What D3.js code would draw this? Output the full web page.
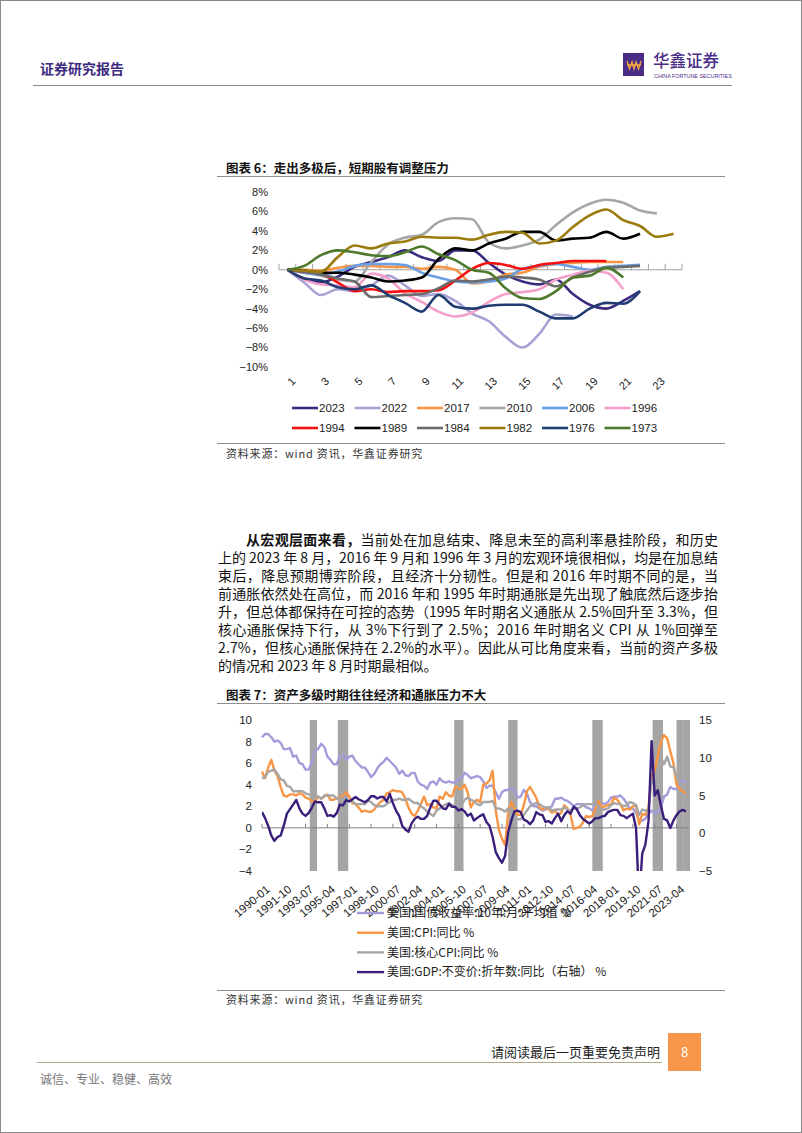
<!DOCTYPE html>
<html>
<head>
<meta charset="utf-8">
<script src="https://cdn.jsdelivr.net/npm/d3@7"></script>
<style>
  body { margin: 0; background: #fff; }
  svg { display: block; }
  text { font-family: "Noto Sans CJK SC", "Noto Sans", sans-serif; }
  .num { font-family: "Liberation Sans", Arial, sans-serif; }
</style>
</head>
<body>
<div id="page"></div>
<script>
// ---------- chart 6 data: cumulative return after multi-peak, by period ----------
const periods = d3.range(1, 25);
const periodLabels = [1, 3, 5, 7, 9, 11, 13, 15, 17, 19, 21, 23];
const pctTicks = [8, 6, 4, 2, 0, -2, -4, -6, -8, -10];

const years = ["2023", "2022", "2017", "2010", "2006", "1996", "1994", "1989", "1984", "1982", "1976", "1973"];
const yearColors = ["#3b2a7e", "#a8a2d4", "#f79646", "#a6a6a6", "#6a9fe6", "#f59fcb",
                    "#f50f0f", "#000000", "#6b6b6b", "#9c7b0d", "#203d72", "#4e7a2c"];

const s2023 = [0, -0.9, -1.3, -0.7, 0.3, 0.8, 1.3, 2.0, 1.3, 0.9, 2.0, 2.0, 0.7, -0.5, -1.2, -1.5, -1.0, -2.5, -3.6, -4.0, -3.2, -2.2];
const s2022 = [0, -1.3, -2.6, -2.0, -2.2, -1.6, -0.6, -1.6, -2.7, -2.5, -3.2, -4.5, -5.3, -6.9, -8.0, -6.6, -4.6, -4.8];
const s2017 = [0, 0.0, -0.1, 0.2, 0.4, 0.4, 0.3, 0.3, 0.1, 0.3, 0.0, -1.4, -1.2, -0.5, -0.3, 0.3, 0.6, 0.7, 0.8, 0.8, 0.8];
const s2010 = [0, -0.3, -0.6, -1.0, -1.2, 0.8, 2.6, 3.3, 3.6, 4.9, 5.3, 5.2, 2.8, 2.2, 2.5, 3.1, 4.6, 5.9, 6.8, 7.2, 6.9, 6.1, 5.8];
const s2006 = [0, -0.3, -0.5, -0.2, 0.4, 0.6, 0.6, 0.5, -0.3, -0.8, -1.2, -1.3, -1.2, -0.9, 0.1, 0.4, 0.6, 0.3, 0.0, 0.3, 0.4, 0.5];
const s1996 = [0, -1.0, -1.5, -1.6, -1.8, -0.4, -0.9, -2.4, -3.3, -4.3, -4.8, -4.4, -3.3, -2.5, -2.3, -2.0, -1.0, -0.5, -0.1, -0.3, -2.0];
const s1994 = [0, -0.2, -0.4, -1.3, -2.2, -2.0, -2.3, -2.2, -2.2, -2.1, -1.1, 0.1, 0.7, 0.5, 0.1, 0.5, 0.7, 0.9, 0.9, 0.9];
const s1989 = [0, -0.1, -0.3, -0.3, -0.5, -0.8, -1.2, -1.1, -0.8, 1.1, 2.2, 2.0, 2.7, 3.2, 3.9, 3.9, 3.0, 3.2, 3.3, 3.9, 3.2, 3.7];
const s1984 = [0, -0.2, -0.5, -0.9, -1.2, -2.8, -2.7, -2.6, -2.5, -1.9, -1.1, -1.2, -1.0, -0.7, -0.8, -1.0, -1.7, -0.8, -0.2, 0.2, 0.3, 0.4];
const s1982 = [0, -0.1, -0.2, 1.3, 2.5, 2.2, 2.7, 2.9, 3.4, 3.3, 3.3, 3.1, 3.6, 3.9, 3.8, 2.7, 3.0, 4.4, 5.6, 6.2, 5.1, 4.5, 3.4, 3.7];
const s1976 = [0, -0.9, -1.1, -1.8, -2.0, -1.6, -2.6, -3.4, -4.3, -2.6, -3.8, -4.0, -3.7, -3.6, -3.6, -4.3, -5.0, -5.0, -4.0, -3.4, -3.5, -2.2];
const s1973 = [0, 0.4, 1.5, 2.0, 1.8, 1.5, 1.4, 1.8, 2.4, 1.6, 1.0, 0.0, -0.3, -1.9, -2.9, -3.0, -2.2, -0.8, -0.6, 0.2, -0.8];
const yearSeries = [s2023, s2022, s2017, s2010, s2006, s1996, s1994, s1989, s1984, s1982, s1976, s1973];

// ---------- chart 7 data: quarterly, 1990Q1 .. 2024Q1 ----------
const yield10 = [
  8.4, 8.7, 8.7, 8.4,  8.0, 8.1, 7.9, 7.3,  7.3, 7.4, 6.6, 6.7,  6.0, 5.9, 5.4, 5.4,
  6.1, 7.1, 7.3, 7.8,  7.5, 6.6, 6.3, 5.9,  5.9, 6.7, 6.8, 6.3,  6.6, 6.7, 6.2, 5.9,
  5.6, 5.6, 5.2, 4.7,  5.0, 5.5, 5.9, 6.1,  6.5, 6.2, 5.9, 5.6,  5.0, 5.3, 4.9, 4.8,
  5.1, 5.1, 4.3, 4.0,  3.9, 3.6, 4.2, 4.3,  4.0, 4.6, 4.3, 4.2,  4.3, 4.2, 4.2, 4.5,
  4.6, 5.1, 4.9, 4.6,  4.7, 4.8, 4.7, 4.3,  3.7, 3.9, 3.9, 3.3,  2.7, 3.3, 3.5, 3.5,
  3.7, 3.5, 2.8, 2.9,  3.5, 3.2, 2.4, 2.0,  2.0, 1.8, 1.6, 1.7,  1.9, 2.0, 2.7, 2.7,
  2.8, 2.6, 2.5, 2.3,  2.0, 2.2, 2.2, 2.2,  1.9, 1.8, 1.6, 2.1,  2.4, 2.3, 2.2, 2.4,
  2.8, 2.9, 2.9, 3.0,  2.7, 2.3, 1.8, 1.8,  1.4, 0.7, 0.65, 0.85, 1.3, 1.6, 1.3, 1.5,
  1.9, 2.9, 3.1, 3.8,  3.6, 3.6, 4.2, 4.4,  4.2];
const cpi = [
  5.2, 4.6, 5.6, 6.3,  5.3, 4.8, 3.8, 3.0,  2.9, 3.1, 3.1, 3.0,  3.2, 3.1, 2.8, 2.7,
  2.5, 2.4, 2.9, 2.7,  2.9, 3.1, 2.6, 2.6,  2.8, 2.8, 3.0, 3.3,  2.9, 2.3, 2.2, 1.9,
  1.5, 1.6, 1.5, 1.5,  1.7, 2.1, 2.4, 2.6,  3.2, 3.3, 3.5, 3.4,  3.4, 3.3, 2.7, 1.9,
  1.3, 1.1, 1.6, 2.2,  2.9, 2.1, 2.2, 1.9,  1.8, 2.9, 2.7, 3.3,  3.0, 2.9, 3.8, 3.7,
  3.6, 4.0, 3.3, 1.9,  2.4, 2.6, 2.4, 4.0,  4.1, 4.4, 5.3, 1.6,  -0.2, -1.0, -1.6, 1.5,
  2.4, 1.8, 1.2, 1.2,  2.1, 3.4, 3.8, 3.3,  2.8, 1.9, 1.7, 1.9,  1.7, 1.4, 1.6, 1.2,
  1.4, 2.1, 1.8, 1.2,  -0.1, 0.0, 0.1, 0.5,  1.1, 1.0, 1.1, 1.8,  2.5, 1.9, 2.0, 2.1,
  2.2, 2.8, 2.6, 2.2,  1.6, 1.8, 1.7, 2.0,  2.1, 0.3, 1.3, 1.2,  1.9, 4.8, 5.3, 6.7,
  8.0, 8.6, 8.3, 7.1,  6.0, 4.0, 3.6, 3.4,  3.2];
const coreCpi = [
  4.6, 4.7, 5.2, 5.3,  5.4, 5.0, 4.5, 4.4,  3.9, 3.8, 3.4, 3.4,  3.4, 3.4, 3.2, 3.1,
  2.9, 2.8, 2.9, 2.7,  3.0, 3.0, 3.0, 3.0,  2.7, 2.7, 2.7, 2.6,  2.5, 2.5, 2.2, 2.2,
  2.2, 2.2, 2.5, 2.4,  2.1, 2.0, 2.0, 2.0,  2.2, 2.4, 2.6, 2.6,  2.7, 2.6, 2.6, 2.7,
  2.5, 2.3, 2.3, 2.0,  1.8, 1.5, 1.3, 1.1,  1.6, 1.8, 2.0, 2.2,  2.3, 2.1, 2.0, 2.1,
  2.1, 2.6, 2.8, 2.6,  2.5, 2.2, 2.1, 2.4,  2.4, 2.4, 2.5, 1.8,  1.8, 1.7, 1.5, 1.8,
  1.1, 0.9, 0.8, 0.8,  1.2, 1.6, 2.0, 2.2,  2.3, 2.2, 2.0, 1.9,  1.9, 1.6, 1.7, 1.7,
  1.7, 1.9, 1.7, 1.6,  1.8, 1.8, 1.9, 2.1,  2.2, 2.2, 2.2, 2.2,  2.0, 1.7, 1.7, 1.8,
  2.1, 2.3, 2.2, 2.2,  2.0, 2.1, 2.4, 2.3,  2.1, 1.2, 1.7, 1.6,  1.6, 4.5, 4.0, 5.5,
  6.5, 5.9, 6.6, 5.7,  5.6, 4.8, 4.1, 3.9,  3.8];
const gdp = [
  2.8, 2.0, 1.0, -0.3,  -1.0, -0.5, -0.3, 1.0,  2.6, 3.2, 3.8, 4.4,  3.3, 2.6, 2.3, 2.7,
  3.4, 4.2, 4.1, 4.1,  3.3, 2.3, 2.4, 2.2,  2.7, 3.8, 3.7, 4.4,  4.2, 4.5, 4.8, 4.5,
  4.3, 4.1, 4.4, 4.9,  4.9, 4.6, 4.8, 4.8,  4.2, 5.2, 4.0, 3.0,  2.3, 1.0, 0.5, 0.2,
  1.3, 1.9, 2.2, 1.9,  1.9, 2.3, 3.4, 4.3,  4.3, 3.8, 3.3, 3.2,  3.9, 3.5, 3.5, 3.0,
  3.2, 2.9, 2.3, 2.6,  1.7, 2.0, 2.3, 2.5,  1.5, 1.0, -0.5, -2.5,  -3.3, -3.9, -3.0, 0.2,
  1.7, 2.9, 3.0, 2.8,  1.8, 1.6, 1.2, 1.7,  2.8, 2.5, 2.4, 1.5,  1.6, 1.3, 2.0, 2.6,
  1.6, 2.4, 2.9, 2.6,  3.5, 3.2, 2.4, 1.9,  1.6, 1.3, 1.6, 2.0,  2.0, 2.2, 2.3, 2.8,
  3.0, 3.1, 3.1, 2.4,  2.3, 2.0, 2.3, 2.6,  0.7, -9.0, -2.7, -1.5,  1.6, 12.2, 5.0, 5.7,
  3.6, 1.9, 1.7, 0.7,  1.7, 2.4, 2.9, 3.1,  2.9];
const macroNames = ["美国:国债收益率:10年:月:平均值 %", "美国:CPI:同比 %", "美国:核心CPI:同比 %", "美国:GDP:不变价:折年数:同比（右轴） %"];
const macroColors = ["#a39cda", "#f79646", "#a6a6a6", "#3a1e7c"];
const dateLabels = ["1990-01", "1991-10", "1993-07", "1995-04", "1997-01", "1998-10", "2000-07", "2002-04",
  "2004-01", "2005-10", "2007-07", "2009-04", "2011-01", "2012-10", "2014-07", "2016-04", "2018-01",
  "2019-10", "2021-07", "2023-04"];
const leftTicks = [10, 8, 6, 4, 2, 0, -2, -4];
const rightTicks = [15, 10, 5, 0, -5];
const peakPeriods = [["1993-11", "1994-05"], ["1996-02", "1996-11"], ["2005-06", "2006-02"], ["2009-10", "2010-06"],
  ["2016-07", "2017-04"], ["2021-05", "2022-02"], ["2023-04", "2023-10"], ["2023-11", "2024-04"]];

// ---------- page text ----------
const paraLines = [
  "上的 2023 年 8 月，2016 年 9 月和 1996 年 3 月的宏观环境很相似，均是在加息结",
  "束后，降息预期博弈阶段，且经济十分韧性。但是和 2016 年时期不同的是，当",
  "前通胀依然处在高位，而 2016 年和 1995 年时期通胀是先出现了触底然后逐步抬",
  "升，但总体都保持在可控的态势（1995 年时期名义通胀从 2.5%回升至 3.3%，但",
  "核心通胀保持下行，从 3%下行到了 2.5%；2016 年时期名义 CPI 从 1%回弹至",
  "2.7%，但核心通胀保持在 2.2%的水平）。因此从可比角度来看，当前的资产多极",
  "的情况和 2023 年 8 月时期最相似。"
];

const W = 802, H = 1133;
const svg = d3.select("#page").append("svg").attr("width", W).attr("height", H);
const minus = v => (v < 0 ? "\u2212" + Math.abs(v) : "" + v);

// page frame + header
svg.append("rect").attr("x", 0.5).attr("y", 0.5).attr("width", W - 1).attr("height", H - 1)
  .attr("fill", "none").attr("stroke", "#8a8a8a");
svg.append("text").attr("x", 40).attr("y", 74).attr("font-size", 14).attr("font-weight", 700)
  .attr("fill", "#3d2c80").text("证券研究报告");
svg.append("line").attr("x1", 33).attr("x2", 732).attr("y1", 85.5).attr("y2", 85.5).attr("stroke", "#8c8c8c");
svg.append("rect").attr("x", 623).attr("y", 53).attr("width", 21).attr("height", 23).attr("fill", "#4b2d87");
svg.append("path").attr("d", "M627,61 L629.5,69 L632,62 L634,69 L636,62 L638.5,69 L641,61 M627,65 L641,65")
  .attr("fill", "none").attr("stroke", "#f4a63c").attr("stroke-width", 1.3);
svg.append("text").attr("x", 653).attr("y", 66.5).attr("font-size", 16.5).attr("font-weight", 500)
  .attr("fill", "#4b2d87").text("华鑫证券");
svg.append("text").attr("x", 654).attr("y", 77.5).attr("font-size", 5.4).attr("class", "num")
  .attr("fill", "#4b2d87").text("CHINA FORTUNE SECURITIES");

function rule(y) {
  svg.append("line").attr("x1", 217).attr("x2", 725).attr("y1", y).attr("y2", y).attr("stroke", "#8f8f8f");
}
function source(y) {
  svg.append("text").attr("x", 226).attr("y", y).attr("font-size", 11).attr("letter-spacing", 0.8)
    .attr("fill", "#333").text("资料来源：wind 资讯，华鑫证券研究");
}

// ---------- chart 6 ----------
svg.append("text").attr("x", 226).attr("y", 173).attr("font-size", 12.5).attr("font-weight", 700)
  .attr("fill", "#111").text("图表 6：走出多极后，短期股有调整压力");
rule(176.5);

const x1 = d3.scaleBand().domain(periods).range([279, 682]);
const y1 = d3.scaleLinear().domain([-10, 8]).range([367, 192]);
const cx = p => x1(p) + x1.bandwidth() / 2;
const g1 = svg.append("g");

g1.selectAll(".yt").data(pctTicks).enter().append("text").attr("class", "num")
  .attr("x", 268).attr("y", d => y1(d)).attr("dy", "0.35em").attr("text-anchor", "end")
  .attr("font-size", 11).attr("fill", "#222").text(d => minus(d) + "%");

g1.append("line").attr("x1", 279).attr("x2", 682).attr("y1", y1(0)).attr("y2", y1(0)).attr("stroke", "#a0a0a0");
g1.selectAll(".xt").data(d3.range(0, 25)).enter().append("line")
  .attr("x1", d => 279 + d * x1.step()).attr("x2", d => 279 + d * x1.step())
  .attr("y1", y1(0)).attr("y2", y1(0) - 6).attr("stroke", "#a0a0a0");
g1.selectAll(".xl").data(periodLabels).enter().append("text").attr("class", "num")
  .attr("transform", d => `translate(${cx(d) + 3},376) rotate(-45)`).attr("dy", "0.75em")
  .attr("text-anchor", "end").attr("font-size", 11).attr("fill", "#222").text(d => d);

const line1 = d3.line().x((d, i) => cx(periods[i])).y(d => y1(d)).curve(d3.curveMonotoneX);
yearSeries.forEach((s, i) => {
  g1.append("path").attr("d", line1(s)).attr("fill", "none")
    .attr("stroke", yearColors[i]).attr("stroke-width", 2.6).attr("stroke-linejoin", "round");
});

const leg1 = svg.append("g");
years.forEach((yr, i) => {
  const lx = 292 + (i % 6) * 62.5, ly = i < 6 ? 408 : 428;
  leg1.append("line").attr("x1", lx).attr("x2", lx + 26).attr("y1", ly).attr("y2", ly)
    .attr("stroke", yearColors[i]).attr("stroke-width", 2.6);
  leg1.append("text").attr("class", "num").attr("x", lx + 27).attr("y", ly).attr("dy", "0.36em")
    .attr("font-size", 11.5).attr("fill", "#222").text(yr);
});
rule(443.5);
source(458);

// ---------- paragraph ----------
const para = svg.append("g").attr("font-size", 14).attr("fill", "#111");
const first = para.append("text").attr("x", 246).attr("y", 545)
  .attr("textLength", 472).attr("lengthAdjust", "spacing");
first.append("tspan").attr("font-weight", 700).text("从宏观层面来看，");
first.append("tspan").text("当前处在加息结束、降息未至的高利率悬挂阶段，和历史");
paraLines.forEach((t, i) => {
  const el = para.append("text").attr("x", 218).attr("y", 563 + i * 18).text(t);
  if (i < paraLines.length - 1) el.attr("textLength", 500).attr("lengthAdjust", "spacing");
});

// ---------- chart 7 ----------
svg.append("text").attr("x", 226).attr("y", 700).attr("font-size", 12.5).attr("font-weight", 700)
  .attr("fill", "#111").text("图表 7：资产多级时期往往经济和通胀压力不大");
rule(703.5);

const parseM = d3.timeParse("%Y-%m");
const x2 = d3.scaleTime().domain([new Date(1990, 0, 1), new Date(2024, 3, 1)]).range([262, 689]);
const yL = d3.scaleLinear().domain([-4, 10]).range([871, 720]);
const yR = d3.scaleLinear().domain([-5, 15]).range([871, 720]);
const qDates = yield10.map((d, i) => new Date(1990, 3 * i, 1));
const g2 = svg.append("g");

svg.append("clipPath").attr("id", "plot2").append("rect")
  .attr("x", 262).attr("y", 720).attr("width", 427).attr("height", 151);

g2.selectAll(".band").data(peakPeriods).enter().append("rect")
  .attr("x", d => x2(parseM(d[0]))).attr("y", 720)
  .attr("width", d => x2(d3.timeMonth.offset(parseM(d[1]), 1)) - x2(parseM(d[0])))
  .attr("height", 151).attr("fill", "#a5a5a5");

g2.selectAll(".yl").data(leftTicks).enter().append("text").attr("class", "num")
  .attr("x", 252).attr("y", d => yL(d)).attr("dy", "0.35em").attr("text-anchor", "end")
  .attr("font-size", 11.5).attr("fill", "#222").text(d => minus(d));
g2.selectAll(".yr").data(rightTicks).enter().append("text").attr("class", "num")
  .attr("x", 699).attr("y", d => yR(d)).attr("dy", "0.35em")
  .attr("font-size", 11.5).attr("fill", "#222").text(d => minus(d));

g2.append("line").attr("x1", 262).attr("x2", 689).attr("y1", yL(0)).attr("y2", yL(0)).attr("stroke", "#808080");
g2.selectAll(".t2").data(dateLabels).enter().append("line")
  .attr("x1", d => x2(parseM(d))).attr("x2", d => x2(parseM(d)))
  .attr("y1", yL(0)).attr("y2", yL(0) - 4).attr("stroke", "#808080");

const lineL = d3.line().x((d, i) => x2(qDates[i])).y(d => yL(d));
const lineR = d3.line().x((d, i) => x2(qDates[i])).y(d => yR(d));
[yield10, cpi, coreCpi].forEach((s, i) => {
  g2.append("path").attr("d", lineL(s)).attr("fill", "none").attr("stroke", macroColors[i])
    .attr("stroke-width", 2.4).attr("stroke-linejoin", "round");
});
g2.append("path").attr("d", lineR(gdp)).attr("fill", "none").attr("stroke", macroColors[3])
  .attr("stroke-width", 2.4).attr("stroke-linejoin", "round").attr("clip-path", "url(#plot2)");

g2.selectAll(".dl").data(dateLabels).enter().append("text").attr("class", "num")
  .attr("transform", d => `translate(${x2(parseM(d)) + 3},884) rotate(-40)`).attr("dy", "0.75em")
  .attr("text-anchor", "end").attr("font-size", 11.5).attr("fill", "#222").text(d => d);

const leg2 = svg.append("g");
macroNames.forEach((n, i) => {
  const ly = 913 + i * 19.7;
  leg2.append("line").attr("x1", 357).attr("x2", 384).attr("y1", ly).attr("y2", ly)
    .attr("stroke", macroColors[i]).attr("stroke-width", 2.4);
  leg2.append("text").attr("x", 387).attr("y", ly).attr("dy", "0.36em")
    .attr("font-size", 12).attr("fill", "#222").text(n);
});
rule(990.5);
source(1004);

// ---------- footer ----------
svg.append("text").attr("x", 660).attr("y", 1057).attr("text-anchor", "end").attr("font-size", 13)
  .attr("fill", "#222").text("请阅读最后一页重要免责声明");
svg.append("rect").attr("x", 668).attr("y", 1033).attr("width", 33).attr("height", 38).attr("fill", "#f7964a");
svg.append("text").attr("x", 684.5).attr("y", 1057).attr("text-anchor", "middle").attr("font-size", 13)
  .attr("fill", "#fff").text("8");
svg.append("line").attr("x1", 37).attr("x2", 662).attr("y1", 1062.5).attr("y2", 1062.5).attr("stroke", "#aea685");
svg.append("text").attr("x", 40).attr("y", 1084).attr("font-size", 12).attr("fill", "#777")
  .text("诚信、专业、稳健、高效");
</script>
</body>
</html>
